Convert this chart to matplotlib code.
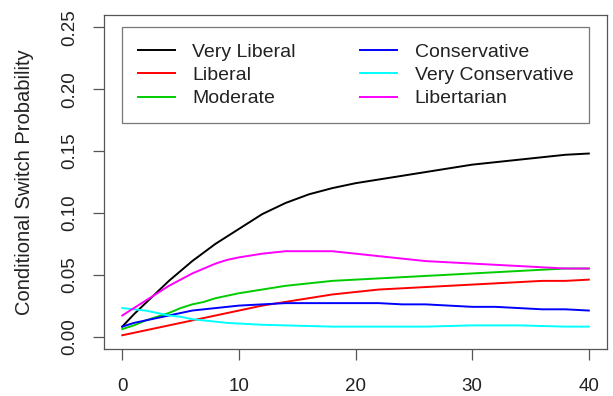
import matplotlib
matplotlib.use("Agg")
import matplotlib.pyplot as plt

plt.rcParams['font.family'] = ['Liberation Sans', 'DejaVu Sans']

# horizon (x) values
x = [0, 1, 2, 3, 4, 5, 6, 7, 8, 9, 10, 12, 14, 16, 18, 20, 22, 24, 26, 28, 30, 32, 34, 36, 38, 40]

very_liberal = [0.008, 0.018, 0.027, 0.036, 0.045, 0.053, 0.061, 0.068, 0.075, 0.081, 0.087,
                0.099, 0.108, 0.115, 0.120, 0.124, 0.127, 0.130, 0.133, 0.136, 0.139,
                0.141, 0.143, 0.145, 0.147, 0.148]
liberal = [0.001, 0.003, 0.005, 0.007, 0.009, 0.011, 0.013, 0.015, 0.017, 0.019, 0.021,
           0.025, 0.028, 0.031, 0.034, 0.036, 0.038, 0.039, 0.040, 0.041, 0.042,
           0.043, 0.044, 0.045, 0.045, 0.046]
moderate = [0.006, 0.009, 0.013, 0.016, 0.019, 0.023, 0.026, 0.028, 0.031, 0.033, 0.035,
            0.038, 0.041, 0.043, 0.045, 0.046, 0.047, 0.048, 0.049, 0.050, 0.051,
            0.052, 0.053, 0.054, 0.055, 0.055]
conservative = [0.008, 0.011, 0.013, 0.015, 0.017, 0.019, 0.021, 0.022, 0.023, 0.024, 0.025,
                0.026, 0.027, 0.027, 0.027, 0.027, 0.027, 0.026, 0.026, 0.025, 0.024,
                0.024, 0.023, 0.022, 0.022, 0.021]
very_conservative = [0.023, 0.022, 0.021, 0.019, 0.017, 0.016, 0.014, 0.013, 0.012, 0.011, 0.0105,
                     0.0095, 0.009, 0.0085, 0.008, 0.008, 0.008, 0.008, 0.008, 0.0085, 0.009,
                     0.009, 0.009, 0.0085, 0.008, 0.008]
libertarian = [0.017, 0.023, 0.029, 0.035, 0.041, 0.046, 0.051, 0.055, 0.059, 0.062, 0.064,
               0.067, 0.069, 0.069, 0.069, 0.067, 0.065, 0.063, 0.061, 0.060, 0.059,
               0.058, 0.057, 0.056, 0.055, 0.055]

labels = ["Very Liberal", "Liberal", "Moderate", "Conservative", "Very Conservative", "Libertarian"]
series = [very_liberal, liberal, moderate, conservative, very_conservative, libertarian]
colors = ["black", "#ff0000", "#00cd00", "#0000ff", "#00ffff", "#ff00ff"]

xticks = [0, 10, 20, 30, 40]
yticks = [0.00, 0.05, 0.10, 0.15, 0.20, 0.25]

fig = plt.figure(figsize=(6.13, 3.96), dpi=100)
ax = fig.add_axes([0.169, 0.119, 0.822, 0.843])

for ys, lab, c in zip(series, labels, colors):
    ax.plot(x, ys, color=c, lw=1.4, label=lab)

# R-style 4% padding
ax.set_xlim(-1.6, 41.6)
ax.set_ylim(-0.01, 0.26)

ax.set_xticks(xticks)
ax.set_xticklabels([str(t) for t in xticks])
ax.set_yticks(yticks)
ax.set_yticklabels([f"{t:.2f}" for t in yticks], rotation=90, va='center')
ax.tick_params(axis='both', direction='out', length=8, width=0.9, color='#555555',
               labelsize=13.5, labelcolor='#222222')
ax.tick_params(axis='x', pad=13)
ax.tick_params(axis='y', pad=10)
for sp in ax.spines.values():
    sp.set_color('#555555')
    sp.set_linewidth(0.9)

ax.set_ylabel("Conditional Switch Probability", fontsize=14.5, color='#222222', labelpad=20)

leg = ax.legend(ncol=2, loc='upper left', mode='expand',
                bbox_to_anchor=(0, 0.174, 40, 0.076), bbox_transform=ax.transData,
                borderaxespad=0, fancybox=False, frameon=True, fontsize=14,
                handlelength=1.9, handletextpad=0.9, labelspacing=0.3,
                borderpad=0.8)
leg.get_frame().set_edgecolor('#555555')
leg.get_frame().set_linewidth(0.9)
for t in leg.get_texts():
    t.set_color('#222222')

fig.savefig("out.png", dpi=100)
